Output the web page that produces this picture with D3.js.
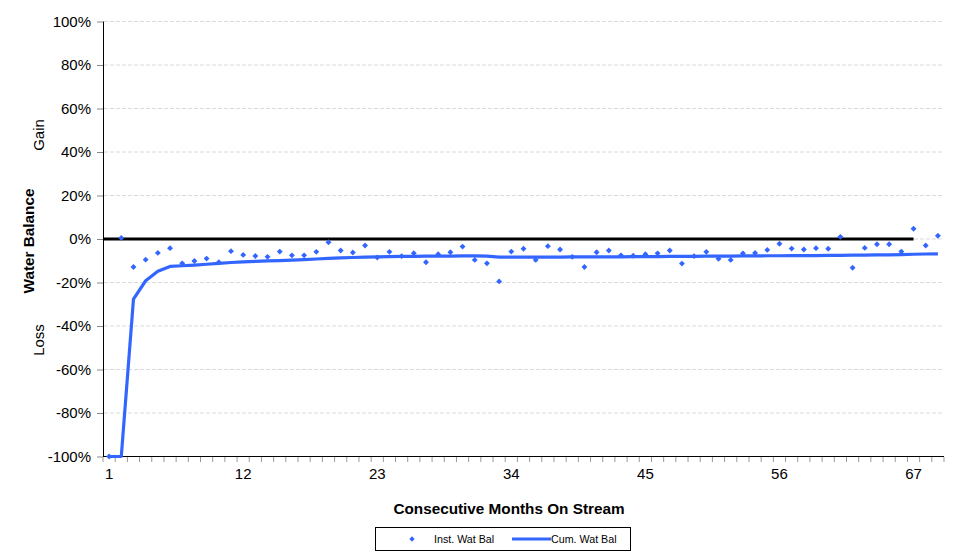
<!DOCTYPE html>
<html><head><meta charset="utf-8">
<script src="https://cdn.jsdelivr.net/npm/d3@7"></script>
<style>body{margin:0;background:#fff;font-family:"Liberation Sans",Arial,sans-serif;}</style>
</head><body><svg id="c" width="973" height="556"></svg>
<script>
const months = d3.range(1, 70);
const instWatBal = [-100,0.5,-12.9,-9.5,-6.4,-4.2,-11.2,-10.1,-9.0,-10.7,-5.6,-7.3,-7.8,-8.2,-5.8,-7.5,-7.5,-5.9,-1.5,-5.3,-6.2,-3.0,-8.5,-5.9,-7.9,-6.5,-10.7,-7.0,-6.1,-3.5,-9.6,-11.2,-19.5,-5.8,-4.5,-9.6,-3.3,-4.8,-8.2,-12.9,-6.1,-5.3,-7.5,-7.7,-7.0,-6.6,-5.3,-11.3,-7.9,-5.9,-9.1,-9.6,-6.6,-6.4,-5.0,-2.2,-4.4,-4.8,-4.2,-4.5,1.0,-13.2,-4.1,-2.4,-2.4,-5.8,4.7,-3.0,1.5];
const cumWatBal = [-100,-100,-27.6,-19.2,-14.8,-12.6,-12.3,-12.0,-11.6,-11.2,-10.8,-10.5,-10.3,-10.1,-9.9,-9.7,-9.5,-9.2,-8.9,-8.7,-8.5,-8.3,-8.2,-8.1,-8.0,-8.0,-7.9,-7.9,-7.9,-7.8,-7.8,-7.9,-8.3,-8.3,-8.3,-8.3,-8.3,-8.3,-8.2,-8.2,-8.2,-8.2,-8.2,-8.1,-8.1,-8.1,-8.0,-8.0,-8.0,-7.9,-7.9,-7.9,-7.8,-7.8,-7.7,-7.7,-7.6,-7.6,-7.6,-7.5,-7.5,-7.4,-7.4,-7.3,-7.3,-7.2,-7.0,-6.9,-6.8];
const yTicks = [-100,-80,-60,-40,-20,0,20,40,60,80,100];
const xTickLabels = [1,12,23,34,45,56,67];
const zeroLineEnd = 67;

const svg = d3.select("#c");
const blue = "#3366ff";
const FONT = "Liberation Sans, Arial, sans-serif";
const x = d3.scaleBand().domain(months).range([103, 944]).padding(0);
const xc = m => x(m) + x.bandwidth()/2;
const y = d3.scaleLinear().domain([-100, 100]).range([456.5, 21.5]);

// gridlines
svg.append("g").selectAll("line").data(yTicks.filter(t=>t!==-100)).join("line")
  .attr("x1",104).attr("x2",944).attr("y1",d=>y(d)).attr("y2",d=>y(d))
  .attr("stroke","#dadada").attr("stroke-width",1).attr("stroke-dasharray","4,2");

// y axis
const yAxis = d3.axisLeft(y).tickValues(yTicks).tickFormat(d=>d+"%").tickSize(6).tickPadding(6);
const gy = svg.append("g").attr("transform","translate(103,0)").call(yAxis);
gy.select(".domain").attr("stroke","#000").attr("d","M0.5,"+y(100)+"V"+y(-100));
gy.selectAll(".tick line").attr("stroke","#888");
gy.selectAll("text").attr("font-size",15).attr("font-family",FONT).attr("fill","#000");

// x axis
const xAxis = d3.axisBottom(x).tickValues(xTickLabels).tickSize(0).tickPadding(12);
const gx = svg.append("g").attr("transform","translate(0,456.5)").call(xAxis);
gx.select(".domain").attr("stroke","#000").attr("d","M103,0H944");
gx.selectAll("text").attr("font-size",15).attr("font-family",FONT).attr("fill","#000");
svg.append("g").selectAll("line").data(months.concat([70])).join("line")
  .attr("x1",d=>d===70?944:x(d)).attr("x2",d=>d===70?944:x(d))
  .attr("y1",457).attr("y2",462).attr("stroke","#999").attr("stroke-width",1);

// zero line
svg.append("line").attr("x1",103).attr("x2",xc(zeroLineEnd)).attr("y1",y(0)).attr("y2",y(0))
  .attr("stroke","#000").attr("stroke-width",3);

// cumulative line
svg.append("path").datum(months.map((m,i)=>[xc(m),y(cumWatBal[i])]))
  .attr("d",d3.line()).attr("fill","none").attr("stroke",blue).attr("stroke-width",3.2).attr("stroke-linejoin","round");

// inst diamonds
svg.append("g").selectAll("path").data(months.map((m,i)=>[xc(m),y(instWatBal[i])])).join("path")
  .attr("d",d3.symbol().type(d3.symbolDiamond2).size(22))
  .attr("transform",d=>`translate(${d[0]},${d[1]})`).attr("fill",blue);

// titles
svg.append("text").attr("x",509).attr("y",513.5).attr("text-anchor","middle").attr("font-family",FONT)
  .attr("font-size",15.3).attr("font-weight","bold").text("Consecutive Months On Stream");
svg.append("text").attr("transform","translate(33.5,241) rotate(-90)").attr("text-anchor","middle").attr("font-family",FONT)
  .attr("font-size",15.3).attr("font-weight","bold").text("Water Balance");
svg.append("text").attr("transform","translate(43.5,135) rotate(-90)").attr("text-anchor","middle").attr("font-family",FONT)
  .attr("font-size",15).text("Gain");
svg.append("text").attr("transform","translate(43.5,340) rotate(-90)").attr("text-anchor","middle").attr("font-family",FONT)
  .attr("font-size",15).text("Loss");

// legend
const lg = svg.append("g");
lg.append("rect").attr("x",375.5).attr("y",527.5).attr("width",255).attr("height",23)
  .attr("fill","#fff").attr("stroke","#000").attr("stroke-width",1);
lg.append("path").attr("d",d3.symbol().type(d3.symbolDiamond2).size(18)).attr("transform","translate(412,539)").attr("fill",blue);
lg.append("text").attr("x",434).attr("y",543).attr("font-family",FONT).attr("font-size",10.7).text("Inst. Wat Bal");
lg.append("line").attr("x1",512).attr("x2",551).attr("y1",539).attr("y2",539).attr("stroke",blue).attr("stroke-width",3);
lg.append("text").attr("x",551).attr("y",543).attr("font-family",FONT).attr("font-size",10.7).text("Cum. Wat Bal");
</script></body></html>
